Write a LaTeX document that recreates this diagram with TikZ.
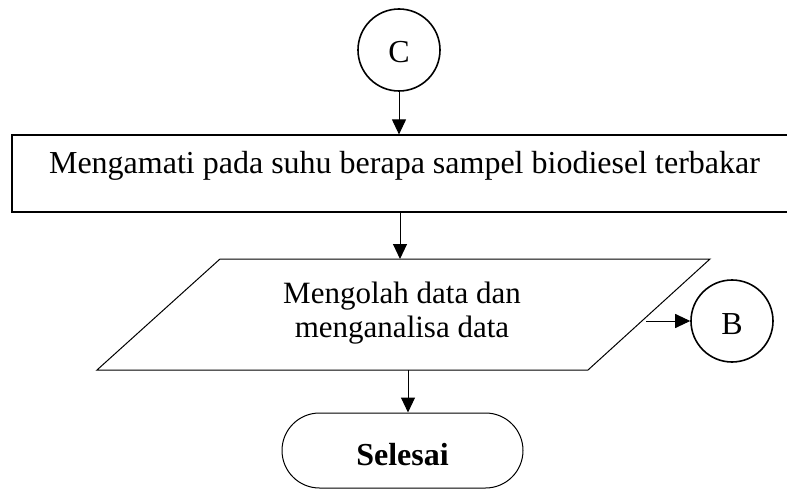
\documentclass[tikz,border=0pt]{standalone}
\usepackage{fontspec}
\setmainfont{Liberation Serif}
\usetikzlibrary{arrows.meta}
\begin{document}
\begin{tikzpicture}[x=1pt,y=-1pt,
  font=\fontsize{32}{36}\selectfont,
  flow/.style={line width=1pt,-{Triangle[length=15pt,width=14pt]}},
  connector/.style={circle,draw,line width=1.6pt,minimum size=82pt,inner sep=0pt,
    text height=26pt,text depth=0pt},
  procbox/.style={rectangle,draw,line width=1.2pt,minimum width=785pt,minimum height=77pt,
    inner sep=0pt,text height=10pt,text depth=10pt},
  terminal/.style={rectangle,draw,line width=1pt,rounded corners=37.5pt,
    minimum width=241pt,minimum height=75pt,inner sep=0pt,text height=29pt,text depth=0pt}]
\useasboundingbox (0,0) rectangle (787,489);

% off-page connector C
\node[connector] (C) at (399,50) {C};

% process step (right side runs past the page edge)
\node[procbox] (obs) at (404.5,173.5) {Mengamati pada suhu berapa sampel biodiesel terbakar};

% input/output parallelogram
\coordinate (ioTL) at (220,259);
\coordinate (ioTR) at (710,259);
\coordinate (ioBR) at (588,370);
\coordinate (ioBL) at (97,370);
\draw[line width=1pt] (ioTL) -- (ioTR) -- (ioBR) -- (ioBL) -- cycle;
\node[align=center,inner sep=0pt,font=\fontsize{31}{34}\selectfont] (io) at (402,313)
  {Mengolah data dan\\menganalisa data};
\coordinate (ioTop) at (400,259);
\coordinate (ioBot) at (408,370);
\coordinate (ioOut) at (646,321);

% connector B
\node[connector] (B) at (732,321) {B};

% end terminal
\node[terminal] (end) at (402.5,450.5) {\textbf{Selesai}};

% flow lines
\draw[flow] (C.south) -- (C.south |- obs.north);
\draw[flow] (obs.south -| ioTop) -- (ioTop);
\draw[flow] (ioOut) -- (B.west);
\draw[flow] (ioBot) -- (ioBot |- end.north);
\end{tikzpicture}
\end{document}
